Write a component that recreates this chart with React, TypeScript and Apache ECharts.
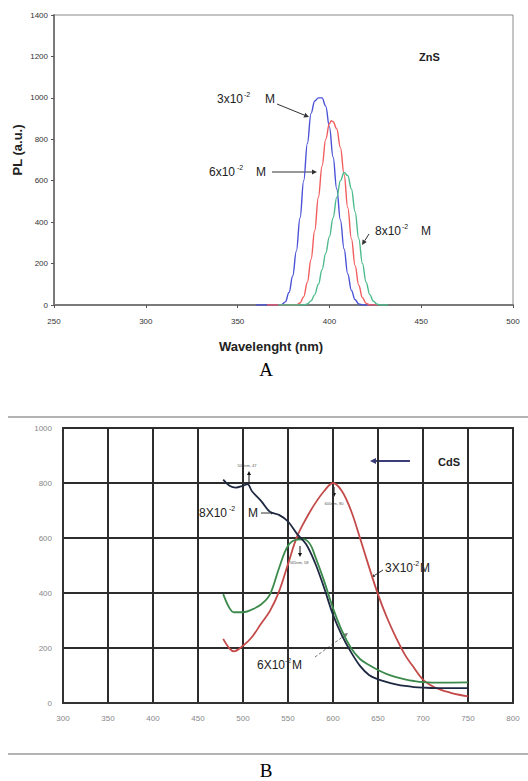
import React, { useEffect, useRef } from 'react';
import * as echarts from 'echarts';

// ---------- Chart A (ZnS) ----------
const znsBlueX = [360, 370, 374, 376, 378, 380, 382, 384, 386, 388, 390, 392, 394, 396, 398, 400, 402, 404, 406, 408, 410, 412, 414, 416, 418, 425];
const znsBlueY = [0, 0, 2, 15, 60, 140, 260, 420, 600, 780, 925, 985, 1000, 1000, 960, 860, 715, 560, 410, 270, 150, 70, 25, 5, 0, 0];
const znsRedX = [366, 382, 384, 386, 388, 390, 392, 394, 396, 398, 400, 401, 402, 404, 406, 408, 410, 412, 414, 416, 418, 420, 422, 426];
const znsRedY = [0, 0, 10, 40, 110, 220, 360, 520, 670, 800, 875, 890, 885, 850, 760, 630, 470, 320, 190, 95, 35, 8, 0, 0];
const znsGreenX = [372, 386, 388, 390, 392, 394, 396, 398, 400, 402, 404, 406, 408, 410, 412, 414, 416, 418, 420, 422, 424, 426, 428, 432];
const znsGreenY = [0, 0, 5, 20, 50, 100, 170, 250, 330, 420, 520, 600, 640, 625, 560, 450, 320, 200, 110, 50, 18, 4, 0, 0];

// ---------- Chart B (CdS) ----------
const cdsRedX = [478, 485, 490, 500, 510, 520, 530, 540, 550, 560, 570, 580, 590, 600, 610, 620, 630, 640, 650, 660, 670, 680, 690, 700, 710, 720, 730, 740, 750];
const cdsRedY = [233, 198, 188, 208, 240, 288, 335, 405, 505, 605, 670, 725, 770, 800, 770, 700, 600, 495, 395, 310, 238, 175, 128, 85, 62, 48, 38, 30, 24];
const cdsGreenX = [478, 485, 490, 500, 510, 520, 530, 540, 550, 560, 568, 575, 580, 590, 600, 610, 620, 630, 640, 650, 660, 670, 680, 690, 700, 720, 750];
const cdsGreenY = [396, 345, 330, 330, 340, 358, 395, 490, 572, 594, 595, 575, 535, 445, 345, 262, 200, 160, 138, 120, 105, 94, 86, 80, 76, 74, 75];
const cdsBlackX = [478, 485, 492, 500, 505, 510, 520, 530, 540, 550, 560, 570, 580, 590, 600, 610, 620, 630, 640, 650, 660, 670, 680, 690, 700, 720, 750];
const cdsBlackY = [812, 790, 783, 790, 796, 770, 735, 695, 684, 660, 615, 578, 510, 420, 321, 245, 185, 135, 102, 86, 76, 68, 62, 58, 56, 54, 54];

const zip = (xs: number[], ys: number[]) => xs.map((x, i) => [x, ys[i]]);

const SANS = 'Liberation Sans, Arial, sans-serif';
const SERIF = 'Liberation Serif, Times New Roman, serif';

function txt(x: number, y: number, text: string, size: number, opts: any = {}) {
  return {
    type: 'text',
    x,
    y,
    rotation: opts.rotation || 0,
    silent: true,
    style: {
      text,
      fontSize: size,
      fontFamily: opts.family || SANS,
      fontWeight: opts.weight || 'normal',
      fill: opts.fill || '#222',
      align: opts.align || 'left',
      verticalAlign: 'middle',
    },
  };
}

function arrow(x1: number, y1: number, x2: number, y2: number, color: string, width = 1, head = 4, dashed = false) {
  const a = Math.atan2(y2 - y1, x2 - x1);
  const bx = x2 - head * Math.cos(a);
  const by = y2 - head * Math.sin(a);
  const w = head * 0.5;
  return [
    { type: 'line', silent: true, shape: { x1, y1, x2: bx, y2: by }, style: { stroke: color, lineWidth: width, lineDash: dashed ? [3, 2] : null } },
    {
      type: 'polygon',
      silent: true,
      shape: { points: [[x2, y2], [bx + w * Math.sin(a), by - w * Math.cos(a)], [bx - w * Math.sin(a), by + w * Math.cos(a)]] },
      style: { fill: color },
    },
  ];
}

function supLabel(x: number, y: number, base: string, supX: number, tailX: number, tail: string, size: number) {
  return [
    txt(x, y, base, size),
    txt(supX, y - 5, '-2', Math.round(size * 0.6)),
    txt(tailX, y, tail, size),
  ];
}

export default function App() {
  const ref = useRef<HTMLDivElement>(null);

  useEffect(() => {
    if (!ref.current) return;
    const chart = echarts.init(ref.current, undefined, { renderer: 'svg' });

    const lineSeries = (xs: number[], ys: number[], color: string, width: number, gi: number) => ({
      type: 'line',
      xAxisIndex: gi,
      yAxisIndex: gi,
      data: zip(xs, ys),
      showSymbol: false,
      smooth: gi === 0 ? 0.4 : 0.35,
      smoothMonotone: gi === 0 ? 'x' : undefined,
      lineStyle: { color, width },
      silent: true,
    });

    const plain = (v: number) => String(v);

    const graphic: any[] = [
      // Chart A annotations
      ...supLabel(217, 99, '3x10', 244, 265, 'M', 12),
      ...arrow(277, 104, 309, 117, '#333', 1, 5),
      ...supLabel(209, 172, '6x10', 237, 256, 'M', 12),
      ...arrow(272, 172, 317, 172, '#333', 1, 5),
      ...supLabel(375, 231, '8x10', 402, 421, 'M', 12),
      ...arrow(369, 234, 362, 245, '#333', 1, 5),
      txt(419, 57, 'ZnS', 11, { weight: 'bold' }),
      txt(17, 150, 'PL (a.u.)', 13, { weight: 'bold', rotation: Math.PI / 2, align: 'center' }),
      txt(271, 346, 'Wavelenght (nm)', 13, { weight: 'bold', align: 'center' }),
      txt(266, 369, 'A', 19, { family: SERIF, align: 'center', fill: '#000' }),

      // Chart B frame lines
      { type: 'line', silent: true, shape: { x1: 8, y1: 417, x2: 528, y2: 417 }, style: { stroke: '#9a9a9a', lineWidth: 1.5 } },
      { type: 'line', silent: true, shape: { x1: 8, y1: 754, x2: 528, y2: 754 }, style: { stroke: '#9a9a9a', lineWidth: 1.5 } },

      // Chart B annotations
      ...arrow(410, 461, 370, 461, '#3c3c78', 2, 6),
      txt(438, 462, 'CdS', 11, { weight: 'bold' }),
      ...supLabel(199, 513, '8X10', 229, 248, 'M', 12),
      ...arrow(261, 513, 274, 513, '#333', 1, 3),
      ...supLabel(385, 568, '3X10', 413, 420, 'M', 12),
      ...arrow(383, 570, 372, 577, '#333', 1, 3),
      ...supLabel(257, 665, '6X10', 285, 292, 'M', 12),
      ...arrow(315, 657, 348, 633, '#777', 1, 4, true),

      // tiny peak markers
      txt(247, 465, '503nm, 47', 4, { align: 'center', fill: '#555' }),
      ...arrow(249, 483, 249, 471, '#111', 1, 4),
      txt(334, 503, '600nm, 80', 4, { align: 'center', fill: '#555' }),
      ...arrow(334, 487, 334, 497, '#111', 1, 4),
      txt(299, 562, '565nm, 58', 4, { align: 'center', fill: '#555' }),
      ...arrow(300, 546, 300, 557, '#111', 1, 4),

      txt(266, 770, 'B', 19, { family: SERIF, align: 'center', fill: '#000' }),
    ];

    chart.setOption({
      animation: false,
      backgroundColor: '#ffffff',
      textStyle: { fontFamily: SANS },
      grid: [
        { left: 54, top: 15, width: 459, height: 290, show: true, borderColor: '#8a8a8a', borderWidth: 1 },
        { left: 63, top: 428, width: 450, height: 275, show: true, borderColor: '#333', borderWidth: 2 },
      ],
      xAxis: [
        {
          gridIndex: 0, type: 'value', min: 250, max: 500, interval: 50,
          axisLine: { show: true, lineStyle: { color: '#7a7a7a', width: 2 } },
          axisTick: { show: true, length: 3, lineStyle: { color: '#555' } },
          axisLabel: { fontSize: 8, color: '#333', margin: 12, fontFamily: SANS, formatter: plain },
          splitLine: { show: false },
        },
        {
          gridIndex: 1, type: 'value', min: 300, max: 800, interval: 50,
          axisLine: { show: true, lineStyle: { color: '#333', width: 2 } },
          axisTick: { show: false },
          axisLabel: { fontSize: 8, color: '#888', margin: 11, fontFamily: SANS, formatter: plain },
          splitLine: { show: true, lineStyle: { color: '#2c2c2c', width: 2 } },
        },
      ],
      yAxis: [
        {
          gridIndex: 0, type: 'value', min: 0, max: 1400, interval: 200,
          axisLine: { show: true, lineStyle: { color: '#7a7a7a', width: 2 } },
          axisTick: { show: true, length: 3, lineStyle: { color: '#555' } },
          axisLabel: { fontSize: 8, color: '#333', margin: 6, fontFamily: SANS, formatter: plain },
          splitLine: { show: false },
        },
        {
          gridIndex: 1, type: 'value', min: 0, max: 1000, interval: 200,
          axisLine: { show: true, lineStyle: { color: '#333', width: 2 } },
          axisTick: { show: false },
          axisLabel: { fontSize: 8, color: '#888', margin: 11, fontFamily: SANS, formatter: plain },
          splitLine: { show: true, lineStyle: { color: '#2c2c2c', width: 2 } },
        },
      ],
      series: [
        lineSeries(znsBlueX, znsBlueY, '#4a52d6', 1.4, 0),
        lineSeries(znsRedX, znsRedY, '#f25c5c', 1.4, 0),
        lineSeries(znsGreenX, znsGreenY, '#4dbb8c', 1.4, 0),
        lineSeries(cdsRedX, cdsRedY, '#c44a4a', 1.8, 1),
        lineSeries(cdsGreenX, cdsGreenY, '#3b8a4c', 1.8, 1),
        lineSeries(cdsBlackX, cdsBlackY, '#1e2840', 1.8, 1),
      ],
      graphic,
    });

    return () => chart.dispose();
  }, []);

  return (
    <div
      ref={ref}
      style={{ position: 'absolute', left: 0, top: 0, width: 528, height: 781, background: '#fff' }}
    />
  );
}
